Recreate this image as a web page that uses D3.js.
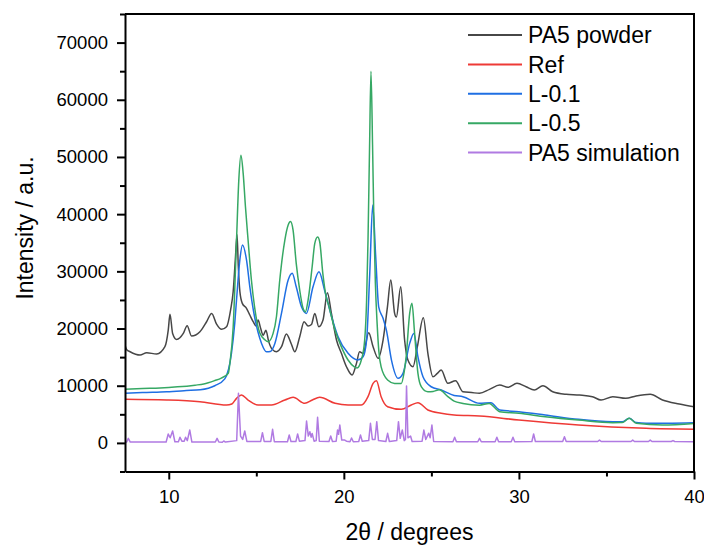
<!DOCTYPE html>
<html><head><meta charset="utf-8">
<script src="https://cdn.jsdelivr.net/npm/d3@7"></script>
<style>body{margin:0;background:#fff} svg{display:block} text{font-family:Arial,"Liberation Sans",sans-serif;fill:#000}</style>
</head><body><svg id="c" width="704" height="545"></svg>
<script>
// ---- data ----
const seriesNames = ["PA5 powder", "Ref", "L-0.1", "L-0.5", "PA5 simulation"];

const powderX = [7.5,7.6,7.79,8.36,8.74,9.31,9.78,9.97,10.07,10.22,10.45,10.83,11.05,11.3,11.78,12.16,12.45,12.73,13.02,13.3,13.53,13.68,13.8,13.9,13.97,14.06,14.2,14.44,14.63,14.82,15.0,15.1,15.25,15.39,15.55,15.7,15.9,16.15,16.44,16.72,17.0,17.2,17.48,17.73,17.96,18.15,18.34,18.57,18.81,19.06,19.29,19.58,19.86,20.15,20.47,20.72,20.9,21.1,21.42,21.67,21.96,22.24,22.49,22.68,22.9,23.0,23.25,23.47,23.66,23.95,24.2,24.54,24.8,25.09,25.34,25.56,25.94,26.38,26.8,27.3,27.75,28.32,28.9,29.37,29.89,30.41,30.88,31.37,31.93,32.7,33.46,34.2,34.69,35.36,36.1,36.69,37.5,38.2,39.16,40.0];
const powderY = [17100,16300,15940,15360,15770,15540,16820,19730,22480,19150,18100,19150,20490,18690,19440,21190,22650,20780,19860,20310,23230,26500,32000,36400,31000,26500,24400,23530,22360,21190,20400,21500,20000,18800,19700,17800,16400,15940,16820,19040,17290,15940,18560,21190,20430,20700,22650,20310,21480,26260,22650,17990,15660,13320,11870,13910,15940,15660,19270,16820,14790,17990,23800,28480,22650,22000,27300,17990,14490,13320,16820,21880,15660,11570,12170,12740,10420,10870,8950,8800,8670,9370,10120,9720,10420,9820,9250,10000,8950,8500,8370,8080,7500,8080,7790,8200,8500,7500,6800,6330];

const refX = [7.5,9.88,11.78,13.3,13.6,13.87,14.15,14.53,15.1,15.87,16.63,17.1,17.77,18.2,18.62,19.5,20.24,21.0,21.38,21.67,21.86,22.13,22.5,23.28,23.85,24.23,24.8,25.56,26.3,27.75,30.0,33.4,37.26,40.0];
const refY = [7620,7500,7200,6620,6800,7790,8370,7500,6620,6620,7500,7970,6920,7500,7970,6920,6620,6620,8080,10420,10870,8080,6330,5870,6620,7030,5750,5170,4880,4700,4000,3130,2550,2380];

const l01X = [7.5,8.5,9.88,11.0,11.8,12.63,13.2,13.58,13.77,13.87,14.06,14.21,14.44,14.63,14.9,15.3,15.58,15.8,16.06,16.44,16.82,17.05,17.28,17.58,17.86,18.24,18.58,18.9,19.3,19.67,20.24,20.8,21.1,21.3,21.48,21.65,21.82,21.99,22.24,22.43,22.72,23.1,23.38,23.76,24.0,24.23,24.52,24.99,25.56,26.3,26.8,27.75,28.4,28.9,30.0,31.5,33.4,35.36,35.9,36.3,36.7,37.26,40.0];
const l01Y = [8670,8800,8950,9150,9300,10000,11200,15660,21000,25000,32000,34600,32000,27300,22060,17400,15940,16000,17400,22700,28500,29650,27300,23800,22650,27300,29930,26700,22060,18560,15660,14500,15070,18000,29650,41580,32550,23800,21780,19730,14490,11290,12170,17400,19150,15070,11570,9820,9250,8300,8080,6920,7030,5750,5450,4880,4120,3710,3700,4300,3550,3430,3540];

const l05X = [7.5,8.5,9.5,10.5,11.5,12.0,12.63,13.0,13.4,13.49,13.68,13.87,14.0,14.12,14.25,14.38,14.53,14.72,14.9,15.2,15.5,15.68,15.96,16.15,16.34,16.63,16.82,16.95,17.1,17.28,17.48,17.67,17.8,17.96,18.19,18.34,18.5,18.62,18.8,18.99,19.1,19.5,19.86,20.24,20.6,20.75,21.0,21.19,21.3,21.38,21.47,21.55,21.64,21.72,21.8,21.9,22.0,22.13,22.5,22.9,23.28,23.45,23.56,23.76,23.89,24.04,24.23,24.43,24.8,25.1,25.45,25.94,26.3,26.8,27.75,28.3,28.9,30.0,31.5,33.4,35.36,35.9,36.3,36.7,38.2,40.0];
const l05Y = [9370,9500,9600,9800,10100,10300,10900,11340,12170,13900,20310,35470,45950,50300,47130,41290,35470,28480,23800,19200,18000,17700,19150,22060,28480,35470,38100,38700,37200,31400,26700,23530,22900,25000,30800,34890,36000,35180,29600,25560,24400,19700,16800,14500,13300,13100,14500,18000,25000,35400,52000,65000,52000,38000,28000,20900,16000,13300,11000,10400,10400,12500,15100,22650,24400,19200,12200,9800,8950,9000,9300,8100,7300,6900,6600,6900,5450,5170,4580,4000,3540,3550,4300,3420,3130,3400];

const simX = [7.5,7.6,7.69,7.8,9.85,9.97,10.08,10.22,10.35,10.55,10.64,10.75,10.88,10.96,11.06,11.2,11.32,12.66,12.76,12.86,13.06,13.14,13.24,13.88,13.98,14.1,14.22,14.34,14.46,15.25,15.35,15.45,15.83,15.93,16.03,16.78,16.88,16.98,17.26,17.36,17.46,17.78,17.87,17.97,18.06,18.13,18.19,18.3,18.42,18.5,18.6,19.15,19.25,19.35,19.56,19.64,19.7,19.77,19.88,20.05,20.15,20.35,20.44,20.54,20.85,20.95,21.05,21.42,21.52,21.63,21.78,21.88,21.98,22.4,22.5,22.6,23.02,23.12,23.22,23.34,23.45,23.52,23.58,23.66,23.81,23.9,24.47,24.57,24.68,24.85,24.93,25.03,25.13,26.23,26.33,26.43,27.65,27.75,27.85,28.64,28.74,28.84,29.56,29.66,29.76,30.74,30.84,30.94,32.5,32.6,32.7,34.5,34.6,34.7,36.4,36.5,36.6,37.4,37.5,37.6,38.7,38.8,38.9,40.0];
const simY = [100,150,800,150,150,1550,900,2080,200,200,980,300,300,980,400,2250,150,150,800,150,120,330,150,400,8670,1200,600,2080,250,250,1780,250,250,2370,200,200,1380,250,250,1550,300,400,3830,1200,1960,1000,1660,300,400,4470,300,250,1200,250,300,2250,1500,3130,500,500,300,200,860,200,250,1380,300,400,3430,600,600,3710,400,250,1680,250,400,3710,800,2250,400,600,9950,900,1200,250,300,2250,600,1700,900,3130,250,200,980,200,200,800,200,200,980,200,200,980,200,250,1550,250,250,1090,250,250,500,250,250,500,250,250,500,250,250,400,250,200];

const xTicks = [10, 20, 30, 40];
const xMinorTicks = [15, 25, 35];
const yTicks = [0, 10000, 20000, 30000, 40000, 50000, 60000, 70000];
const yMinorTicks = [-5000, 5000, 15000, 25000, 35000, 45000, 55000, 65000, 75000];
const colors = ["#474747", "#ee3a36", "#1f6fe3", "#36a864", "#b07ae2"];

// ---- chart ----
const svg = d3.select("#c");
const L = 125, R = 694, T = 14, B = 471.5;
const x = d3.scaleLinear().domain([7.5, 40]).range([L, R]);
const y = d3.scaleLinear().domain([-5000, 75000]).range([B, T]);

svg.append("defs").append("clipPath").attr("id", "clip")
  .append("rect").attr("x", L).attr("y", T).attr("width", R - L).attr("height", B - T);

const series = [
  [powderX, powderY], [refX, refY], [l01X, l01Y], [l05X, l05Y], [simX, simY]
];
const line = d3.line().x(d => x(d[0])).y(d => y(d[1]));
const gLines = svg.append("g").attr("clip-path", "url(#clip)");
series.forEach((s, i) => {
  const pts = s[0].map((v, j) => [v, s[1][j]]);
  gLines.append("path").datum(pts)
    .attr("fill", "none").attr("stroke", colors[i]).attr("stroke-width", 1.5)
    .attr("stroke-linejoin", "round")
    .attr("d", line.curve(i === 4 ? d3.curveLinear : d3.curveMonotoneX));
});

// axes
const axW = 2;
const xAxis = svg.append("g").attr("transform", `translate(0,${B})`)
  .call(d3.axisBottom(x).tickValues(xTicks).tickSize(8).tickPadding(10).tickSizeOuter(0).tickFormat(d3.format("d")));
svg.append("g").attr("transform", `translate(0,${B})`)
  .call(d3.axisBottom(x).tickValues(xMinorTicks).tickSize(5).tickSizeOuter(0).tickFormat(""))
  .select(".domain").remove();
const yAxis = svg.append("g").attr("transform", `translate(${L},0)`)
  .call(d3.axisLeft(y).tickValues(yTicks).tickSize(8).tickPadding(9).tickSizeOuter(0).tickFormat(d3.format("d")));
svg.append("g").attr("transform", `translate(${L},0)`)
  .call(d3.axisLeft(y).tickValues(yMinorTicks).tickSize(5).tickSizeOuter(0).tickFormat(""))
  .select(".domain").remove();
svg.selectAll(".tick line").attr("stroke", "#000").attr("stroke-width", axW);
svg.selectAll(".domain").attr("stroke", "#000").attr("stroke-width", axW);
svg.selectAll(".tick text").attr("font-size", "18.5px").attr("font-family", "Arial, 'Liberation Sans', sans-serif").attr("fill", "#000");
// top and right frame
svg.append("line").attr("x1", L).attr("x2", R).attr("y1", T).attr("y2", T).attr("stroke", "#000").attr("stroke-width", axW);
svg.append("line").attr("x1", R).attr("x2", R).attr("y1", T - 1).attr("y2", B + 1).attr("stroke", "#000").attr("stroke-width", axW);

// axis titles
svg.append("text").attr("x", (L + R) / 2).attr("y", 540).attr("text-anchor", "middle")
  .attr("font-size", "23px").text("2θ / degrees");
svg.append("text").attr("transform", "translate(33,228) rotate(-90)").attr("text-anchor", "middle")
  .attr("font-size", "23px").text("Intensity / a.u.");

// legend
const lg = svg.append("g");
seriesNames.forEach((n, i) => {
  const yy = 35 + i * 29.4;
  lg.append("line").attr("x1", 468).attr("x2", 522).attr("y1", yy).attr("y2", yy)
    .attr("stroke", colors[i]).attr("stroke-width", 2);
  lg.append("text").attr("x", 528).attr("y", yy).attr("dy", "0.36em")
    .attr("font-size", "23px").text(n);
});
</script></body></html>
